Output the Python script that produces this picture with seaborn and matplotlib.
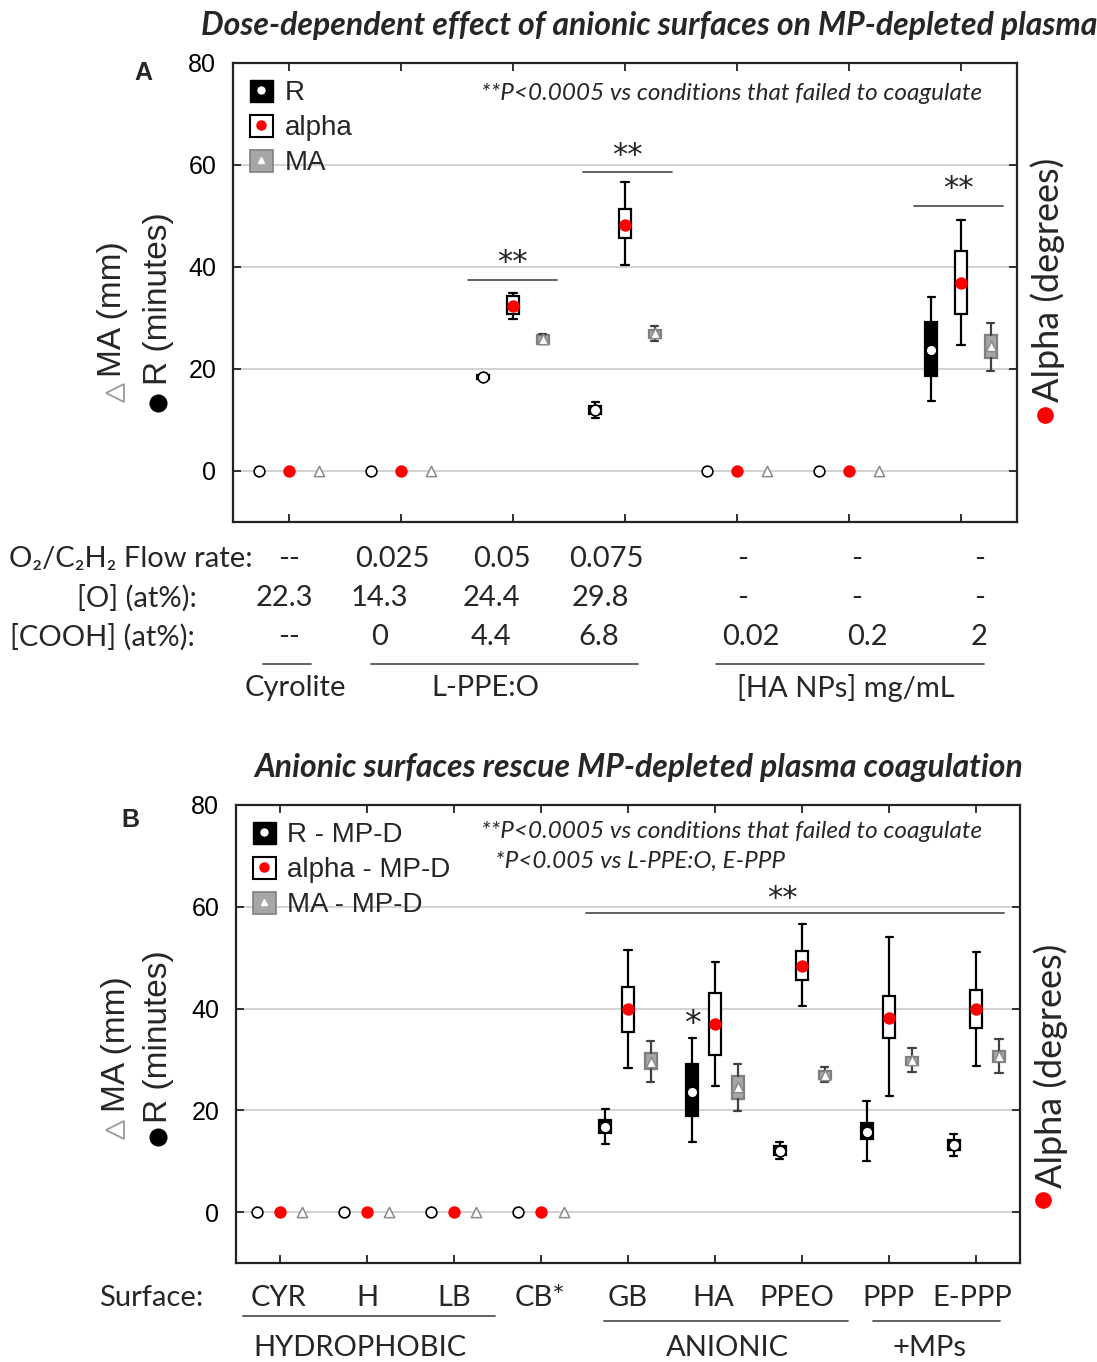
import numpy as np
import pandas as pd
import matplotlib
matplotlib.use("Agg")
import matplotlib.pyplot as plt
import seaborn as sns
from matplotlib.lines import Line2D
from matplotlib.patches import Rectangle
from matplotlib.legend_handler import HandlerTuple

# ---------------- data ----------------
# each entry: (median, q1, q3, whisker_low, whisker_high)
groups_A = ["Cyrolite", "0.025", "0.05", "0.075", "0.02", "0.2", "2"]
R_A = [(0, 0, 0, 0, 0), (0, 0, 0, 0, 0), (18.4, 18.0, 18.8, 17.9, 18.9),
       (12.0, 11.1, 12.8, 10.3, 13.6), (0, 0, 0, 0, 0), (0, 0, 0, 0, 0),
       (23.7, 18.7, 29.2, 13.7, 34.2)]
alpha_A = [(0, 0, 0, 0, 0), (0, 0, 0, 0, 0), (32.4, 30.7, 34.4, 29.9, 35.0),
           (48.3, 45.7, 51.4, 40.4, 56.6), (0, 0, 0, 0, 0), (0, 0, 0, 0, 0),
           (36.9, 30.7, 43.1, 24.7, 49.2)]
MA_A = [(0, 0, 0, 0, 0), (0, 0, 0, 0, 0), (25.8, 25.0, 26.6, 24.9, 26.9),
        (27.0, 26.0, 27.7, 25.5, 28.5), (0, 0, 0, 0, 0), (0, 0, 0, 0, 0),
        (24.6, 22.1, 26.7, 19.7, 29.0)]

groups_B = ["CYR", "H", "LB", "CB*", "GB", "HA", "PPEO", "PPP", "E-PPP"]
R_B = [(0, 0, 0, 0, 0)] * 4 + [(16.8, 15.5, 18.1, 13.3, 20.3), (23.7, 18.8, 29.1, 13.7, 34.2),
                              (12.1, 11.2, 12.9, 10.5, 13.7), (15.8, 14.4, 17.5, 10.1, 21.8),
                              (13.2, 12.2, 14.2, 11.1, 15.3)]
alpha_B = [(0, 0, 0, 0, 0)] * 4 + [(39.9, 35.4, 44.3, 28.4, 51.6), (36.9, 30.8, 43.1, 24.8, 49.2),
                                  (48.4, 45.7, 51.3, 40.5, 56.7), (38.2, 34.2, 42.5, 22.9, 54.0),
                                  (39.9, 36.2, 43.7, 28.8, 51.2)]
MA_B = [(0, 0, 0, 0, 0)] * 4 + [(29.5, 28.2, 31.3, 25.6, 33.7), (24.6, 22.2, 26.7, 19.9, 29.1),
                               (26.9, 26.1, 27.7, 25.6, 28.5), (29.8, 29.0, 30.5, 27.6, 32.2),
                               (30.7, 29.5, 31.7, 27.4, 34.1)]

yticks = [0, 20, 40, 60, 80]

flow_row = ["--", "0.025", "0.05", "0.075", "-", "-", "-"]
o_row = ["22.3", "14.3", "24.4", "29.8", "-", "-", "-"]
cooh_row = ["--", "0", "4.4", "6.8", "0.02", "0.2", "2"]
row_titles_A = ["O\u2082/C\u2082H\u2082 Flow rate:", "[O] (at%):", "[COOH] (at%):"]
cats_A = ["Cyrolite", "L-PPE:O", "[HA NPs] mg/mL"]
cats_B = ["HYDROPHOBIC", "ANIONIC", "+MPs"]

# ---------------- style ----------------
sns.set_theme(style="ticks")
plt.rcParams["font.family"] = ["Liberation Sans", "DejaVu Sans"]
CAL = ["Lato", "DejaVu Sans"]

W, H = 1097, 1362
def fx(p): return p / W
def fy(p): return 1 - p / H

fig = plt.figure(figsize=(W / 100, H / 100), dpi=100)
fig.patch.set_facecolor("white")

RED = "#ff0000"
GREY_F = "#a6a6a6"
GREY_E = "#7f7f7f"


def ftext(px, py, s, **kw):
    return fig.text(fx(px), fy(py), s, **kw)


def fline(x0, x1, y, color="#555555", lw=1.3):
    fig.add_artist(Line2D([fx(x0), fx(x1)], [fy(y), fy(y)], transform=fig.transFigure,
                          color=color, lw=lw))


def fmark(px, py, **kw):
    fig.add_artist(Line2D([fx(px)], [fy(py)], transform=fig.transFigure, ls="none", **kw))


def draw_panel(ax, R, AL, MA, offset, width, labels_leg):
    n = len(R)
    pos = np.arange(n)
    series = [
        (R, -offset, dict(facecolor="black", edgecolor="black"), "black"),
        (AL, 0.0, dict(facecolor="white", edgecolor="black"), "black"),
        (MA, offset, dict(facecolor=GREY_F, edgecolor=GREY_E), "#404040"),
    ]
    for data, dx, bprops, wcol in series:
        stats, ps = [], []
        for i, (med, q1, q3, lo, hi) in enumerate(data):
            if hi == 0:
                continue
            stats.append(dict(med=med, q1=q1, q3=q3, whislo=lo, whishi=hi, fliers=[]))
            ps.append(i + dx)
        ax.bxp(stats, positions=ps, widths=width, patch_artist=True, showfliers=False,
               boxprops=dict(linewidth=1.6, **bprops),
               whiskerprops=dict(color=wcol, linewidth=1.6),
               capprops=dict(color=wcol, linewidth=1.6),
               medianprops=dict(linewidth=0), capwidths=width * 0.6,
               manage_ticks=False, zorder=3)

    dfR = pd.DataFrame({"x": pos - offset, "y": [d[0] for d in R]})
    dfA = pd.DataFrame({"x": pos, "y": [d[0] for d in AL]})
    dfM = pd.DataFrame({"x": pos + offset, "y": [d[0] for d in MA]})
    sns.scatterplot(data=dfR, x="x", y="y", ax=ax, marker="o", s=60, color="white",
                    edgecolor="black", linewidth=1.2, zorder=5, legend=False)
    sns.scatterplot(data=dfA, x="x", y="y", ax=ax, marker="o", s=80, color=RED,
                    edgecolor=RED, linewidth=0, zorder=5, legend=False)
    sns.scatterplot(data=dfM, x="x", y="y", ax=ax, marker="^", s=55, color="white",
                    edgecolor="#8a8a8a", linewidth=1.1, zorder=5, legend=False)

    ax.set_xlim(-0.5, n - 0.5)
    ax.set_ylim(-10, 80)
    ax.set_xticks(pos)
    ax.set_xticklabels([])
    ax.set_yticks(yticks)
    ax.set_yticklabels([str(t) for t in yticks], fontsize=18)
    ax.set_xlabel("")
    ax.set_ylabel("")
    ax.tick_params(direction="in", top=True, right=True, length=6, width=1.3,
                   colors="#222222", labelcolor="black", pad=12)
    for sp in ax.spines.values():
        sp.set_linewidth(1.6)
        sp.set_color("#222222")
    for t in [0, 20, 40, 60]:
        ax.axhline(t, color="#cfcfcf", lw=1.3, zorder=0)

    hR = (Rectangle((0, 0), 1, 1, fc="black", ec="black"),
          Line2D([], [], ls="none", marker="o", ms=5, mfc="white", mec="white"))
    hA = (Rectangle((0, 0), 1, 1, fc="white", ec="black", lw=1.5),
          Line2D([], [], ls="none", marker="o", ms=6.5, mfc=RED, mec=RED))
    hM = (Rectangle((0, 0), 1, 1, fc=GREY_F, ec=GREY_E, lw=1.2),
          Line2D([], [], ls="none", marker="^", ms=5, mfc="white", mec="white"))
    leg = ax.legend([hR, hA, hM], labels_leg,
                    handler_map={tuple: HandlerTuple(ndivide=1, pad=0)},
                    loc="upper left", bbox_to_anchor=(0.0, 1.0), frameon=False,
                    fontsize=20, handlelength=0.85, handleheight=0.85, handletextpad=0.4,
                    labelspacing=0.3, borderaxespad=0.2, borderpad=0.4)
    leg.set_zorder(6)


STAR = ["DejaVu Sans"]

# ---------------- panel A ----------------
axA = fig.add_axes([fx(233), fy(522), (1017 - 233) / W, (522 - 63) / H])
wA = 12 / 112.0
draw_panel(axA, R_A, alpha_A, MA_A, 0.265, wA, ["R", "alpha", "MA"])
# significance bars
for (x0, x1, y) in [(1.60, 2.39, 37.5), (2.625, 3.42, 58.6), (5.58, 6.375, 52.0)]:
    axA.plot([x0, x1], [y, y], color="#555555", lw=1.3, zorder=2)
    axA.text((x0 + x1) / 2, y + 3.3, "**", ha="center", va="center", fontsize=22,
             family=STAR, color="#222222")

# ---------------- panel B ----------------
axB = fig.add_axes([fx(236), fy(1263), (1020 - 236) / W, (1263 - 805) / H])
wB = 12 / 87.2
draw_panel(axB, R_B, alpha_B, MA_B, 0.26, wB, ["R - MP-D", "alpha - MP-D", "MA - MP-D"])
axB.plot([3.52, 8.32], [58.8, 58.8], color="#555555", lw=1.3, zorder=2)
axB.text(5.77, 61.6, "**", ha="center", va="center", fontsize=22, family=STAR, color="#222222")
axB.text(5 - 0.26, 36.8, "*", ha="center", va="center", fontsize=24, family=STAR, color="#222222")

# ---------------- titles & annotations ----------------
ftext(649, 25, "Dose-dependent effect of anionic surfaces on MP-depleted plasma", ha="center",
      va="center", fontsize=23, weight="bold", style="italic", family=CAL)
ftext(639, 767, "Anionic surfaces rescue MP-depleted plasma coagulation", ha="center",
      va="center", fontsize=23, weight="bold", style="italic", family=CAL)
ftext(143, 73, "A", ha="center", va="center", fontsize=18, weight="bold")
ftext(130, 820, "B", ha="center", va="center", fontsize=18, weight="bold")

ftext(481, 93, "**P<0.0005 vs conditions that failed to coagulate", ha="left", va="center",
      fontsize=17.5, style="italic", family=CAL)
ftext(481, 832, "**P<0.0005 vs conditions that failed to coagulate", ha="left", va="center",
      fontsize=17.5, style="italic", family=CAL)
ftext(495, 861, "*P<0.005 vs L-PPE:O, E-PPP", ha="left", va="center",
      fontsize=17.5, style="italic", family=CAL)

# ---------------- axis labels ----------------
for (xm, ym, xt, yt_bottom, xr, yr, xrt, yrt_bottom, xa, ya_center, xd, yd) in [
        (115, 393, 113, 377, 158, 403, 158, 385, 1048, 280, 1045, 415),
        (115, 1130, 116, 1112, 158, 1137, 158, 1123, 1051, 1066, 1043, 1200)]:
    fmark(xm, ym, marker="<", ms=13, mfc="white", mec="#9a9a9a", mew=1.3)
    ftext(xt, yt_bottom, "MA (mm)", rotation=90, ha="center", va="bottom", fontsize=24)
    fmark(xr, yr, marker="o", ms=12, mfc="black", mec="black")
    ftext(xrt, yrt_bottom, "R (minutes)", rotation=90, ha="center", va="bottom", fontsize=24)
    ftext(xa, ya_center, "Alpha (degrees)", rotation=90, ha="center", va="center",
          fontsize=26, family=CAL)
    fmark(xd, yd, marker="o", ms=11, mfc=RED, mec=RED)

# ---------------- table under panel A ----------------
colsA_flow = [289, 392, 502, 606, 743, 857, 980]
colsA_o = [284, 379, 491, 600, 743, 857, 980]
colsA_cooh = [289, 380, 491, 599, 751, 867, 979]
rows_y = [559, 598, 637]
title_right = [253, 197, 195]
for ttl, yy, xr in zip(row_titles_A, rows_y, title_right):
    ftext(xr, yy, ttl, ha="right", va="center", fontsize=21, family=CAL)
for vals, cols, yy in [(flow_row, colsA_flow, 559), (o_row, colsA_o, 598), (cooh_row, colsA_cooh, 637)]:
    for v, cx in zip(vals, cols):
        ftext(cx, yy, v, ha="center", va="center", fontsize=21, family=CAL)
for (x0, x1), lab, cx in zip([(263, 311), (371, 638), (716, 984)], cats_A, [295, 485, 846]):
    fline(x0, x1, 664)
    ftext(cx, 688, lab, ha="center", va="center", fontsize=21, family=CAL)

# ---------------- labels under panel B ----------------
ftext(203, 1298, "Surface:", ha="right", va="center", fontsize=21, family=CAL)
for lab, cx in zip(groups_B, [279, 367, 454, 540, 628, 713, 797, 888, 972]):
    ftext(cx, 1298, lab, ha="center", va="center", fontsize=21, family=CAL)
for (x0, x1, yl), lab, cx in zip([(243, 495, 1316), (604, 848, 1321), (873, 1000, 1321)],
                                 cats_B, [360, 727, 929]):
    fline(x0, x1, yl)
    ftext(cx, 1348, lab, ha="center", va="center", fontsize=21, family=CAL)

fig.savefig("out.png", dpi=100, facecolor="white")
